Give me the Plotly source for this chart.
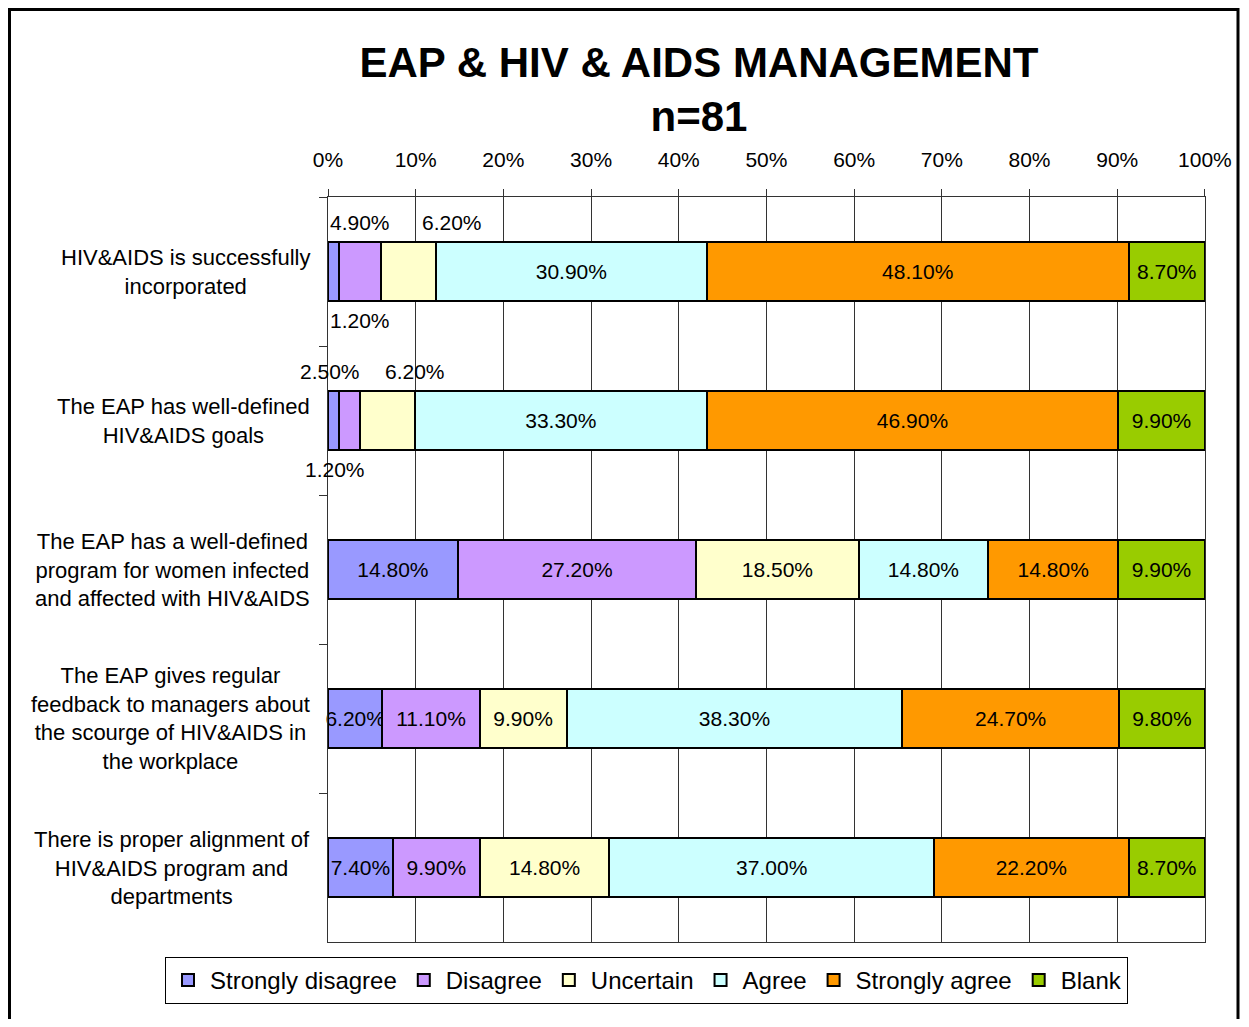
import plotly.graph_objects as go

# ---- data ----
categories = [
    "HIV&AIDS is successfully<br>incorporated",
    "The EAP has well-defined<br>HIV&AIDS goals",
    "The EAP has a well-defined<br>program for women infected<br>and affected with HIV&AIDS",
    "The EAP gives regular<br>feedback to managers about<br>the scourge of HIV&AIDS in<br>the workplace",
    "There is proper alignment of<br>HIV&AIDS program and<br>departments",
]
series_names = ["Strongly disagree", "Disagree", "Uncertain", "Agree", "Strongly agree", "Blank"]
strongly_disagree = [1.2, 1.2, 14.8, 6.2, 7.4]
disagree = [4.9, 2.5, 27.2, 11.1, 9.9]
uncertain = [6.2, 6.2, 18.5, 9.9, 14.8]
agree = [30.9, 33.3, 14.8, 38.3, 37.0]
strongly_agree = [48.1, 46.9, 14.8, 24.7, 22.2]
blank = [8.7, 9.9, 9.9, 9.8, 8.7]
x_ticks = list(range(0, 101, 10))

series_values = [strongly_disagree, disagree, uncertain, agree, strongly_agree, blank]
colors = ["#9999FF", "#CC99FF", "#FFFFCC", "#CCFFFF", "#FF9900", "#99CC00"]

# labels of very thin segments placed outside the bar: (row, series) -> (side, pixel shift)
outside_labels = {
    (0, 0): ("below", 27), (0, 1): ("above", 0), (0, 2): ("above", 43),
    (1, 0): ("below", 2), (1, 1): ("above", -19), (1, 2): ("above", 27),
}

FONT = "Liberation Sans, Arial, sans-serif"
OFF = 8  # page body margin of the html page
W, H = 1249 - OFF, 1027 - 2 * OFF
ML, MT = 328 - OFF, 197 - OFF
PW, PH = 877, 745  # plot area size in px


def px_to_paper_x(fx):
    return (fx - ML) / PW


def px_to_paper_y(fy):
    return (MT + PH - fy) / PH


fig = go.Figure()
for si, (name, vals, col) in enumerate(zip(series_names, series_values, colors)):
    texts = ["" if (ri, si) in outside_labels else f"{v:.2f}%" for ri, v in enumerate(vals)]
    fig.add_trace(go.Bar(
        name=name, y=categories, x=vals, orientation="h",
        marker=dict(color=col, line=dict(color="black", width=2)),
        text=texts, textposition="inside", insidetextanchor="middle", textangle=0,
        insidetextfont=dict(family=FONT, size=21, color="black"),
        cliponaxis=False, hoverinfo="x+name",
    ))

annotations = []
for (ri, si), (side, xs) in outside_labels.items():
    start = sum(series_values[k][ri] for k in range(si))
    v = series_values[si][ri]
    annotations.append(dict(
        x=start + v / 2, y=categories[ri], xref="x", yref="y",
        text=f"{v:.2f}%", showarrow=False, xshift=xs,
        yshift=49 if side == "above" else -49,
        font=dict(family=FONT, size=21, color="black"),
    ))
for c in categories:
    annotations.append(dict(
        x=0, y=c, xref="paper", yref="y", text=c, showarrow=False,
        xanchor="right", xshift=-16, align="center",
        font=dict(family=FONT, size=22, color="black"),
    ))

fig.update_layout(
    width=W, height=H,
    margin=dict(l=ML, r=W - ML - PW, t=MT, b=H - MT - PH, autoexpand=False),
    paper_bgcolor="white", plot_bgcolor="white",
    barmode="stack", bargap=0.61,
    title=dict(
        text="<b>EAP & HIV & AIDS MANAGEMENT<br>n=81</b>",
        x=(699 - OFF) / W, xanchor="center", xref="container",
        y=1 - 68.5 / H, yanchor="middle", yref="container",
        font=dict(family=FONT, size=42, color="black"),
    ),
    xaxis=dict(
        side="top", range=[0, 100.01], tickvals=x_ticks,
        ticktext=[f"{t}%" for t in x_ticks],
        showgrid=True, gridcolor="#333333", gridwidth=1,
        showline=True, linecolor="#333333", linewidth=1, mirror=True,
        ticks="outside", ticklen=7, tickcolor="#333333",
        ticklabelstandoff=14,
        tickfont=dict(family=FONT, size=21, color="black"),
        zeroline=False, fixedrange=True,
    ),
    yaxis=dict(
        autorange="reversed", showticklabels=False,
        ticks="outside", tickson="boundaries", ticklen=8, tickcolor="#333333",
        showline=True, linecolor="#333333", linewidth=1, mirror=True,
        showgrid=False, zeroline=False,
    ),
    legend=dict(
        orientation="h", x=px_to_paper_x(165 - OFF), xanchor="left",
        y=px_to_paper_y(957 - OFF), yanchor="top",
        bordercolor="black", borderwidth=1, bgcolor="white",
        font=dict(family=FONT, size=24, color="black"),
        itemwidth=34, traceorder="normal", itemclick=False,
    ),
    uniformtext=dict(minsize=21, mode="show"),
    annotations=annotations,
    shapes=[dict(
        type="rect", xref="paper", yref="paper",
        x0=px_to_paper_x(1.5), x1=px_to_paper_x(1230),
        y0=px_to_paper_y(H + 20), y1=px_to_paper_y(1.5),
        line=dict(color="black", width=3), fillcolor="rgba(0,0,0,0)", layer="below",
    )],
    showlegend=True,
)

fig.write_html("out.html")
